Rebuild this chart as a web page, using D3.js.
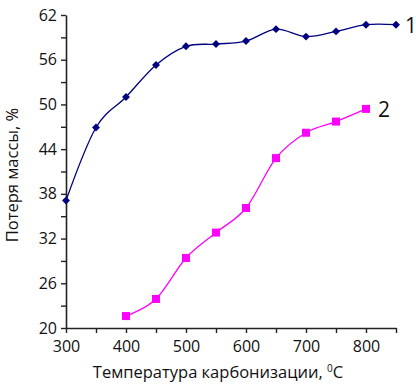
<!DOCTYPE html>
<html>
<head>
<meta charset="utf-8">
<script src="https://cdn.jsdelivr.net/npm/d3@7"></script>
<style>
  body { margin: 0; background: #fff; }
  text { font-family: "Open Sans", "Noto Sans", sans-serif; fill: #111; }
</style>
</head>
<body>
<div id="chart"></div>
<script>
const temps1 = [300, 350, 400, 450, 500, 550, 600, 650, 700, 750, 800, 850];
const loss1 = [37.1, 46.9, 51.0, 55.3, 57.8, 58.1, 58.5, 60.1, 59.1, 59.8, 60.7, 60.7];
const temps2 = [400, 450, 500, 550, 600, 650, 700, 750, 800];
const loss2 = [21.6, 23.9, 29.4, 32.8, 36.1, 42.8, 46.2, 47.7, 49.4];
const yTickLabels = [20, 26, 32, 38, 44, 50, 56, 62];
const xTickLabels = [300, 400, 500, 600, 700, 800];

const dimensions = {
  width: 416,
  height: 387,
  margin: { top: 15, bottom: 59, left: 66, right: 20 }
};
dimensions.containerWidth = dimensions.width - dimensions.margin.left - dimensions.margin.right;
dimensions.containerHeight = dimensions.height - dimensions.margin.top - dimensions.margin.bottom;

const svg = d3.select('#chart')
  .append('svg')
  .attr('width', dimensions.width)
  .attr('height', dimensions.height);

const container = svg.append('g')
  .attr('transform', `translate(${dimensions.margin.left}, ${dimensions.margin.top})`);

const xScale = d3.scaleLinear()
  .domain([300, 850])
  .range([0, 330]);

const yScale = d3.scaleLinear()
  .domain([20, 62])
  .range([dimensions.containerHeight, 0]);

// axes
const xAxis = d3.axisBottom(xScale)
  .tickValues(d3.range(300, 851, 50))
  .tickSize(5)
  .tickSizeOuter(0)
  .tickFormat((d) => xTickLabels.includes(d) ? d : '');

const xAxisGroup = container.append('g')
  .attr('transform', `translate(0, ${dimensions.containerHeight})`)
  .call(xAxis);

const yAxis = d3.axisLeft(yScale)
  .tickValues(d3.range(20, 63, 3))
  .tickSize(5)
  .tickSizeOuter(0)
  .tickFormat((d) => yTickLabels.includes(d) ? d : '');

const yAxisGroup = container.append('g').call(yAxis);

[xAxisGroup, yAxisGroup].forEach((g) => {
  g.select('.domain').attr('stroke', '#222').attr('stroke-width', 1.6);
  g.selectAll('.tick line').attr('stroke', '#222').attr('stroke-width', 1.4);
  g.selectAll('.tick text')
    .attr('fill', '#111')
    .style('font-size', '16px')
    .style('font-family', '"Open Sans", "Noto Sans", sans-serif');
});
xAxisGroup.selectAll('.tick text').attr('dy', '1.0em');
yAxisGroup.selectAll('.tick text').attr('x', -9);

// titles
svg.append('text')
  .attr('x', 218)
  .attr('y', 378)
  .attr('text-anchor', 'middle')
  .style('font-size', '16.5px')
  .html('Температура карбонизации, <tspan dy="-6" font-size="10px">0</tspan><tspan dy="6">C</tspan>');

svg.append('text')
  .attr('transform', `translate(18, 175) rotate(-90)`)
  .attr('text-anchor', 'middle')
  .style('font-size', '16.5px')
  .text('Потеря массы, %');

// lines
const line = d3.line()
  .x((d) => xScale(d[0]))
  .y((d) => yScale(d[1]))
  .curve(d3.curveCatmullRom.alpha(0));

const series1 = temps1.map((t, i) => [t, loss1[i]]);
const series2 = temps2.map((t, i) => [t, loss2[i]]);

container.append('path')
  .datum(series1)
  .attr('fill', 'none')
  .attr('stroke', '#000080')
  .attr('stroke-width', 1.3)
  .attr('d', line);

container.append('path')
  .datum(series2)
  .attr('fill', 'none')
  .attr('stroke', '#ff00ff')
  .attr('stroke-width', 1.3)
  .attr('d', line);

// markers
container.selectAll('.m1')
  .data(series1)
  .join('path')
  .attr('class', 'm1')
  .attr('transform', (d) => `translate(${xScale(d[0])}, ${yScale(d[1])})`)
  .attr('d', d3.symbol(d3.symbolDiamond2, 40))
  .attr('fill', '#000080');

container.selectAll('.m2')
  .data(series2)
  .join('rect')
  .attr('class', 'm2')
  .attr('x', (d) => xScale(d[0]) - 4)
  .attr('y', (d) => yScale(d[1]) - 4)
  .attr('width', 8)
  .attr('height', 8)
  .attr('fill', '#ff00ff');

// series labels
container.append('text')
  .attr('x', xScale(850) + 9)
  .attr('y', yScale(loss1[loss1.length - 1]) + 8)
  .style('font-size', '21px')
  .text('1');

container.append('text')
  .attr('x', xScale(800) + 12)
  .attr('y', yScale(loss2[loss2.length - 1]) + 8)
  .style('font-size', '21px')
  .text('2');
</script>
</body>
</html>
